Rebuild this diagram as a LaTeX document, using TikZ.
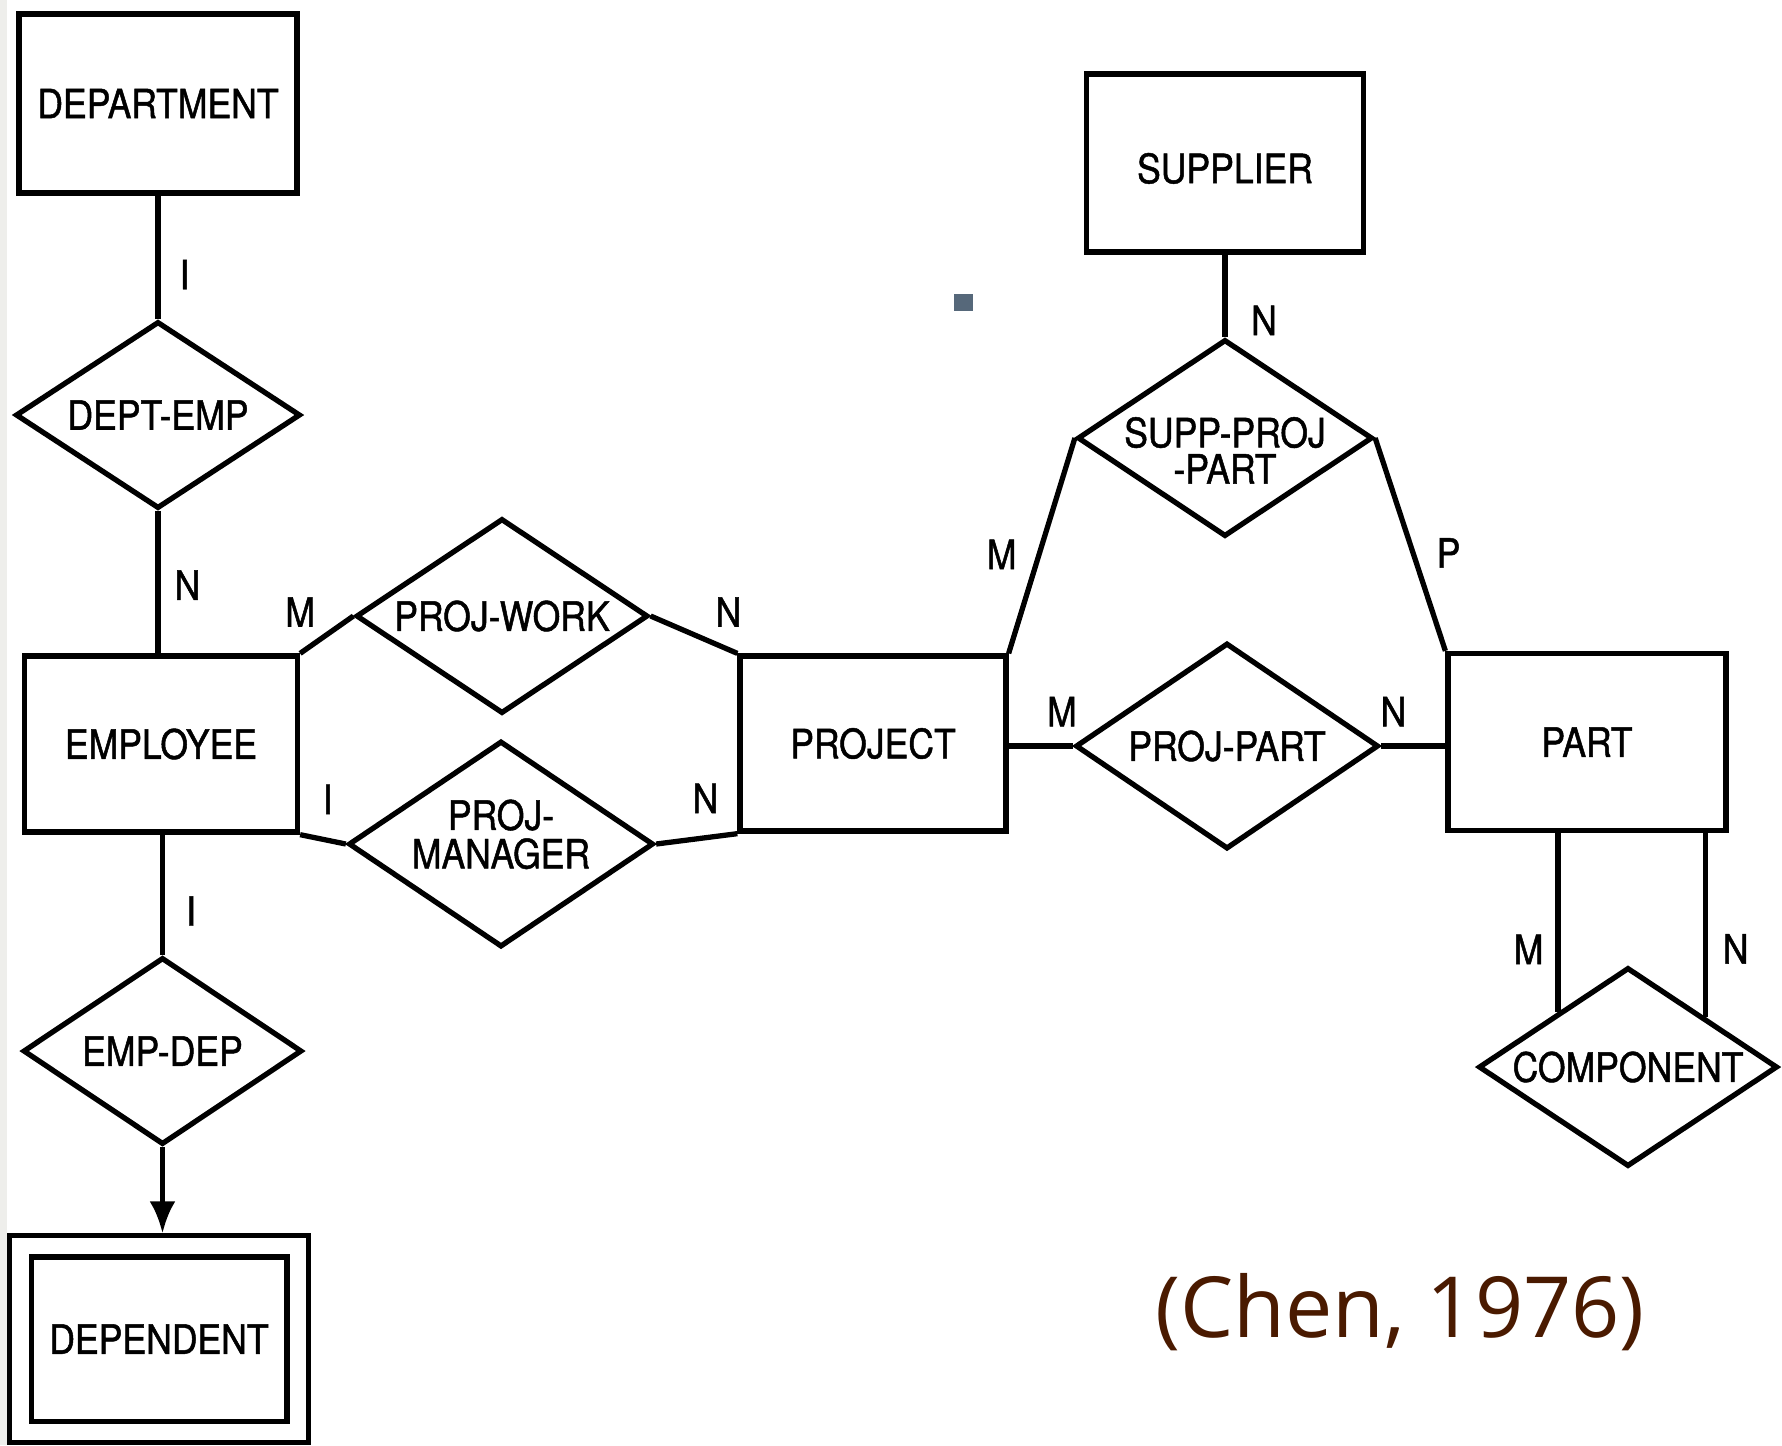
\documentclass[tikz,border=0pt]{standalone}
\usepackage{fontspec}
\usepackage{tikz}
\usepackage{xcolor}
\usetikzlibrary{shapes.geometric, arrows.meta, positioning, calc}
\newfontfamily\erfont[FakeStretch=0.88, FakeBold=1.2]{TeX Gyre Heros}
\newfontfamily\citefont{Open Sans}
\definecolor{Cite_Brown}{HTML}{4A1A00}
\definecolor{Page_Grey}{HTML}{EEEEEB}
\definecolor{Dot_Slate}{HTML}{56687A}

\begin{document}
\begin{tikzpicture}[
    line width=1.5pt,
    entity/.style={
        rectangle,
        draw=black,
        fill=white,
        inner sep=0pt,
        font=\erfont\fontsize{11.5}{12.5}\selectfont
    },
    weakentity/.style={
        entity,
        double,
        double distance=0.16cm,
        outer sep=0.13cm
    },
    relation/.style={
        diamond,
        aspect=2,
        draw=black,
        fill=white,
        inner sep=0pt,
        align=center,
        font=\erfont\fontsize{11.5}{12.5}\selectfont
    },
    card/.style={
        font=\erfont\fontsize{11.5}{12.5}\selectfont,
        inner sep=0pt
    },
    citation/.style={
        font=\citefont\fontsize{24}{28}\selectfont,
        text=Cite_Brown,
        anchor=base
    }
]
\useasboundingbox (0,0) rectangle (17.82,-14.45);
\fill[white] (0,0) rectangle (17.82,-14.45);
\fill[Page_Grey] (0,0) rectangle (0.07,-14.45);
\fill[Dot_Slate] (9.54,-2.94) rectangle (9.73,-3.11);

% Entities
\node[entity, minimum width=2.78cm, minimum height=1.79cm] (dept) at (1.58,-1.035) {DEPARTMENT};
\node[entity, minimum width=2.73cm, minimum height=1.76cm] (employee) at (1.61,-7.44) {EMPLOYEE};
\node[entity, minimum width=2.66cm, minimum height=1.75cm] (project) at (8.73,-7.435) {PROJECT};
\node[entity, minimum width=2.78cm, minimum height=1.77cm] (part) at (15.87,-7.42) {PART};
\node[entity, minimum width=2.77cm, minimum height=1.78cm, text height=0.41cm] (supplier) at (12.25,-1.63) {SUPPLIER};
\node[weakentity, minimum width=2.77cm, minimum height=1.855cm] (dependent) at (1.59,-13.39) {DEPENDENT};

% Relationships
\node[relation, minimum width=2.85cm, minimum height=1.87cm] (deptemp) at (1.58,-4.15) {DEPT-EMP};
\node[relation, minimum width=2.92cm, minimum height=1.95cm] (projwork) at (5.02,-6.16) {PROJ-WORK};
\node[relation, minimum width=3.05cm, minimum height=2.06cm, inner sep=-0.15cm, text depth=0.2cm] (projmanager) at (5.01,-8.44) {PROJ-\\[-1.5pt]MANAGER};
\node[relation, minimum width=2.79cm, minimum height=1.87cm] (empdep) at (1.625,-10.51) {EMP-DEP};
\node[relation, minimum width=2.95cm, minimum height=1.97cm, inner sep=-0.15cm, text height=0.91cm] (supppart) at (12.25,-4.38) {SUPP-PROJ\\[-2.2pt]-PART};
\node[relation, minimum width=3.03cm, minimum height=2.06cm] (projpart) at (12.27,-7.46) {PROJ-PART};
\node[relation, minimum width=2.99cm, minimum height=1.99cm] (component) at (16.28,-10.67) {COMPONENT};

% Employee side
\draw (dept.south) -- node[card, pos=0.64, right=0.19cm] {I} (deptemp.north);
\draw (deptemp.south) -- node[card, pos=0.52, right=0.14cm] {N} (deptemp.south |- employee.north);
\draw (employee.north east) -- node[card, pos=0, above=0.24cm] {M} (projwork.west);
\draw (projwork.east) -- node[card, pos=1, above left=0.24cm and -0.065cm] {N} (project.north west);
\draw (employee.south east) -- node[card, pos=0, above right=0.18cm and 0.2cm] {I} (projmanager.west);
\draw (projmanager.east) -- node[card, pos=1, above left=0.18cm and 0.165cm] {N} (project.south west);
\draw (empdep.north |- employee.south) -- node[card, pos=0.635, right=0.21cm] {I} (empdep.north);
\draw[-{Latex[length=0.32cm, width=0.26cm]}] (empdep.south) -- (empdep.south |- dependent.north);

% Supplier and part side
\draw (supplier.south) -- node[card, pos=0.8, right=0.235cm] {N} (supppart.north);
\draw (supppart.west) -- node[card, pos=0.54, left=0.2cm] {M} (project.north east);
\draw (supppart.east) -- node[card, pos=0.54, right=0.21cm] {P} (part.north west);
\draw (project.east |- projpart.west) -- node[card, pos=0.83, above=0.17cm] {M} (projpart.west);
\draw (projpart.east) -- node[card, pos=0.19, above=0.17cm] {N} (projpart.east -| part.west);

% Part to component
\path (component.north) -- coordinate[pos=0.46] (compm) (component.west);
\path (component.north) -- coordinate[pos=0.507] (compn) (component.east);
\draw (compm |- part.south) -- node[card, pos=0.65, left=0.12cm] {M} (compm);
\draw (compn |- part.south) -- node[card, pos=0.63, right=0.15cm] {N} (compn);

\node[citation] (cite) at (14.00,-13.37) {(Chen, 1976)};

\end{tikzpicture}
\end{document}
